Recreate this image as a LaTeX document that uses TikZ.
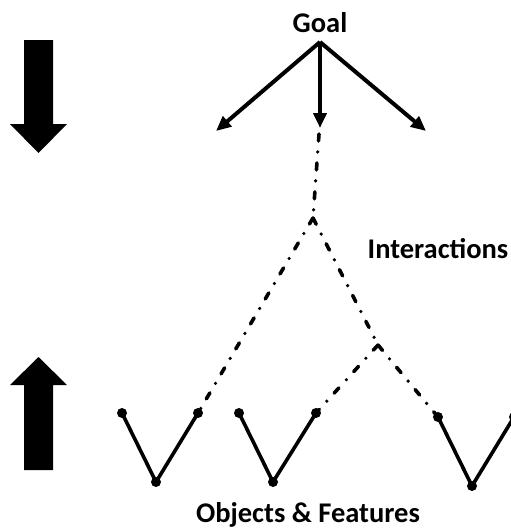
\documentclass[tikz,border=0pt]{standalone}
\usepackage{fontspec}
\setmainfont{Carlito}
\usetikzlibrary{arrows.meta}
\tikzset{
  label text/.style={font=\fontsize{28.5}{34}\selectfont\bfseries, inner sep=0pt},
  goal arrow/.style={line width=4pt, -{Triangle[length=15pt,width=13pt]}},
  link/.style={line width=3.6pt, line cap=round, dash pattern=on 7pt off 11pt on 0pt off 11pt},
  arm/.style={line width=3.6pt},
  endpoint/.style={circle, fill=black, inner sep=0pt, minimum size=10pt},
  big arrow/.style={fill=black}
}
\begin{document}
\begin{tikzpicture}[x=1pt, y=-1pt]
\useasboundingbox (0,0) rectangle (511,528);
\clip (0,0) rectangle (511,528);

% labels
\node[label text, anchor=base] (goal) at (320,32) {Goal};
\node[label text, anchor=base] (inter) at (438,258) {Interactions};
\node[label text, anchor=base] (objs) at (308,522) {Objects \& Features};

% top-down and bottom-up block arrows
\fill[big arrow] (24,40) -- (53,40) -- (53,124) -- (67,124) -- (38.5,153) -- (10,124) -- (24,124) -- cycle;
\fill[big arrow] (38.5,357) -- (67,385) -- (53,385) -- (53,470) -- (24,470) -- (24,385) -- (10,385) -- cycle;

% goal fan-out
\coordinate (apex) at (320,42);
\coordinate (tl) at (216,131);
\coordinate (tm) at (320,128);
\coordinate (tr) at (426,131);
\draw[goal arrow] (apex) -- (tl);
\draw[goal arrow] (apex) -- (tm);
\draw[goal arrow] (apex) -- (tr);

% interaction tree
\coordinate (top) at (319,134);
\coordinate (j1) at (313,218);
\coordinate (j2) at (378,345);

% object V shapes
\node[endpoint] (a1) at (122,413) {};
\node[endpoint] (a2) at (156,482) {};
\node[endpoint] (a3) at (198,413) {};
\node[endpoint] (b1) at (239,413) {};
\node[endpoint] (b2) at (273,482) {};
\node[endpoint] (b3) at (316,413) {};
\node[endpoint] (c1) at (438,417) {};
\node[endpoint] (c2) at (472,486) {};
\node[endpoint] (c3) at (514,417) {};

\draw[arm] (a1.center) -- (a2.center) -- (a3.center);
\draw[arm] (b1.center) -- (b2.center) -- (b3.center);
\draw[arm] (c1.center) -- (c2.center) -- (c3.center);

\draw[link] (top) -- (j1);
\draw[link] (j1) -- (a3.center);
\draw[link] (j1) -- (j2);
\draw[link] (j2) -- (b3.center);
\draw[link] (j2) -- (c1.center);
\end{tikzpicture}
\end{document}
